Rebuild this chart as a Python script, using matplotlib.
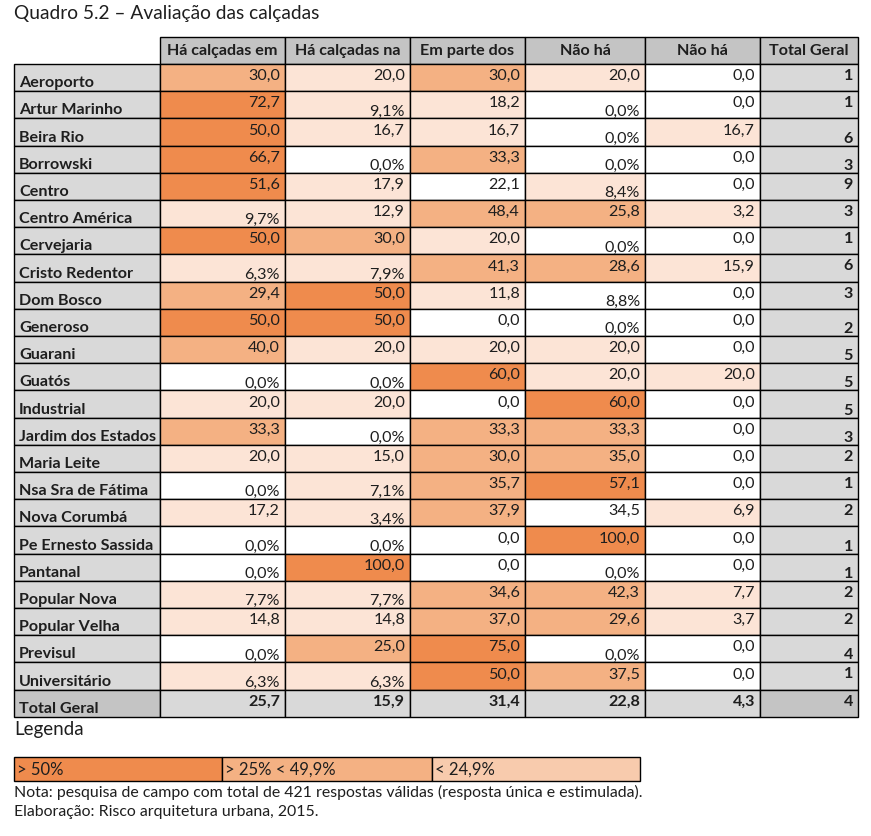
import matplotlib.pyplot as plt
from matplotlib.patches import Rectangle

# data
title = "Quadro 5.2 – Avaliação das calçadas"
columns = ["Há calçadas em", "Há calçadas na", "Em parte dos", "Não há", "Não há"]
total_label = "Total Geral"
bairros = ["Aeroporto", "Artur Marinho", "Beira Rio", "Borrowski", "Centro",
           "Centro América", "Cervejaria", "Cristo Redentor", "Dom Bosco", "Generoso",
           "Guarani", "Guatós", "Industrial", "Jardim dos Estados", "Maria Leite",
           "Nsa Sra de Fátima", "Nova Corumbá", "Pe Ernesto Sassida", "Pantanal",
           "Popular Nova", "Popular Velha", "Previsul", "Universitário"]
col1 = [30.0, 72.7, 50.0, 66.7, 51.6, 9.7, 50.0, 6.3, 29.4, 50.0, 40.0, 0.0, 20.0,
        33.3, 20.0, 0.0, 17.2, 0.0, 0.0, 7.7, 14.8, 0.0, 6.3]
col2 = [20.0, 9.1, 16.7, 0.0, 17.9, 12.9, 30.0, 7.9, 50.0, 50.0, 20.0, 0.0, 20.0,
        0.0, 15.0, 7.1, 3.4, 0.0, 100.0, 7.7, 14.8, 25.0, 6.3]
col3 = [30.0, 18.2, 16.7, 33.3, 22.1, 48.4, 20.0, 41.3, 11.8, 0.0, 20.0, 60.0, 0.0,
        33.3, 30.0, 35.7, 37.9, 0.0, 0.0, 34.6, 37.0, 75.0, 50.0]
col4 = [20.0, 0.0, 0.0, 0.0, 8.4, 25.8, 0.0, 28.6, 8.8, 0.0, 20.0, 20.0, 60.0,
        33.3, 35.0, 57.1, 34.5, 100.0, 0.0, 42.3, 29.6, 0.0, 37.5]
col5 = [0.0, 0.0, 16.7, 0.0, 0.0, 3.2, 0.0, 15.9, 0.0, 0.0, 0.0, 20.0, 0.0,
        0.0, 0.0, 0.0, 6.9, 0.0, 0.0, 7.7, 3.7, 0.0, 0.0]
total_geral = [1, 1, 6, 3, 9, 3, 1, 6, 3, 2, 5, 5, 5, 3, 2, 1, 2, 1, 1, 2, 2, 4, 1]
total_row = [25.7, 15.9, 31.4, 22.8, 4.3]
total_total = 4
legend_labels = ["> 50%", "> 25% < 49,9%", "< 24,9%"]
notes = ["Nota: pesquisa de campo com total de 421 respostas válidas (resposta única e estimulada).",
         "Elaboração: Risco arquitetura urbana, 2015."]

# styling (not data)
pct_cols = (0, 1, 3)           # these columns print small values as "x,x%"
uncolored = {(4, 2), (8, 3), (16, 3)}   # cells left white in the source
total_low = [False, False, True, True, False, False, False, False, False, True,
             True, True, True, True, False, False, False, True, True, False,
             False, True, False]
DARK, MED, LIGHT = "#EF8B4D", "#F4B183", "#FCE4D6"
LEG_LIGHT = "#F8CBAD"
GRAY, GRAY_DK = "#D9D9D9", "#C4C4C4"
INK = "#1e1e1e"

plt.rcParams['font.family'] = ['Lato', 'DejaVu Sans']

W, H = 871, 836
fig = plt.figure(figsize=(W / 100, H / 100), dpi=100)
ax = fig.add_axes([0, 0, 1, 1])
ax.set_xlim(0, W)
ax.set_ylim(H, 0)
ax.axis('off')

x_edges = [14, 160, 285, 410, 525, 645, 760, 858]
y_head = 37
y0 = 64
rh = 27.2
fs = 11.6


def cell(x0, x1, ya, yb, color, lw=1.0):
    ax.add_patch(Rectangle((x0, ya), x1 - x0, yb - ya, facecolor=color,
                           edgecolor='black', linewidth=lw))


def fill_for(v, i, j):
    if v == 0 or (i, j) in uncolored:
        return "white"
    if v >= 50:
        return DARK
    if v >= 25:
        return MED
    return LIGHT


def fmt(v):
    return f"{v:.1f}".replace(".", ",")


ax.text(14, 14, title, fontsize=13.8, va='center', ha='left', color=INK)

# header
for j, name in enumerate(columns + [total_label]):
    xa, xb = x_edges[j + 1], x_edges[j + 2]
    cell(xa, xb, y_head, y0, GRAY_DK)
    ax.text((xa + xb) / 2, y_head + 18, name, fontsize=fs, fontweight='bold',
            ha='center', va='baseline', color=INK)

cols = [col1, col2, col3, col4, col5]
for i, name in enumerate(bairros):
    ya, yb = y0 + i * rh, y0 + (i + 1) * rh
    cell(x_edges[0], x_edges[1], ya, yb, GRAY)
    ax.text(x_edges[0] + 5, yb - 4, name, fontsize=fs, fontweight='bold',
            ha='left', va='baseline', color=INK)
    for j, col in enumerate(cols):
        v = col[i]
        xa, xb = x_edges[j + 1], x_edges[j + 2]
        cell(xa, xb, ya, yb, fill_for(v, i, j))
        if j in pct_cols and v < 10:
            ax.text(xb - 5, yb - 3, fmt(v) + "%", fontsize=fs, ha='right',
                    va='baseline', color=INK)
        else:
            ax.text(xb - 5, ya + 16, fmt(v), fontsize=fs, ha='right',
                    va='baseline', color=INK)
    xa, xb = x_edges[6], x_edges[7]
    cell(xa, xb, ya, yb, GRAY)
    ty = yb - 3 if total_low[i] else ya + 16
    ax.text(xb - 5, ty, str(total_geral[i]), fontsize=fs, fontweight='bold',
            ha='right', va='baseline', color=INK)

# total row
ya, yb = y0 + len(bairros) * rh, y0 + (len(bairros) + 1) * rh
cell(x_edges[0], x_edges[1], ya, yb, GRAY_DK)
ax.text(x_edges[0] + 5, yb - 4, total_label, fontsize=fs, fontweight='bold',
        ha='left', va='baseline', color=INK)
for j, v in enumerate(total_row):
    xa, xb = x_edges[j + 1], x_edges[j + 2]
    cell(xa, xb, ya, yb, GRAY)
    ax.text(xb - 5, ya + 16, fmt(v), fontsize=fs, fontweight='bold',
            ha='right', va='baseline', color=INK)
cell(x_edges[6], x_edges[7], ya, yb, GRAY_DK)
ax.text(x_edges[7] - 5, ya + 16, str(total_total), fontsize=fs, fontweight='bold',
        ha='right', va='baseline', color=INK)

# legend
ax.text(14, 730, "Legenda", fontsize=13.5, ha='left', va='center', color=INK)
leg_edges = [14, 222, 432, 640]
for k, (lab, c) in enumerate(zip(legend_labels, [DARK, MED, LEG_LIGHT])):
    cell(leg_edges[k], leg_edges[k + 1], 757, 781, c)
    ax.text(leg_edges[k] + 3, 775, lab, fontsize=12, ha='left', va='baseline',
            color=INK)

for k, line in enumerate(notes):
    ax.text(14, 792 + k * 20, line, fontsize=11.4, ha='left', va='center',
            color=INK)

plt.savefig('out.png', dpi=100)
